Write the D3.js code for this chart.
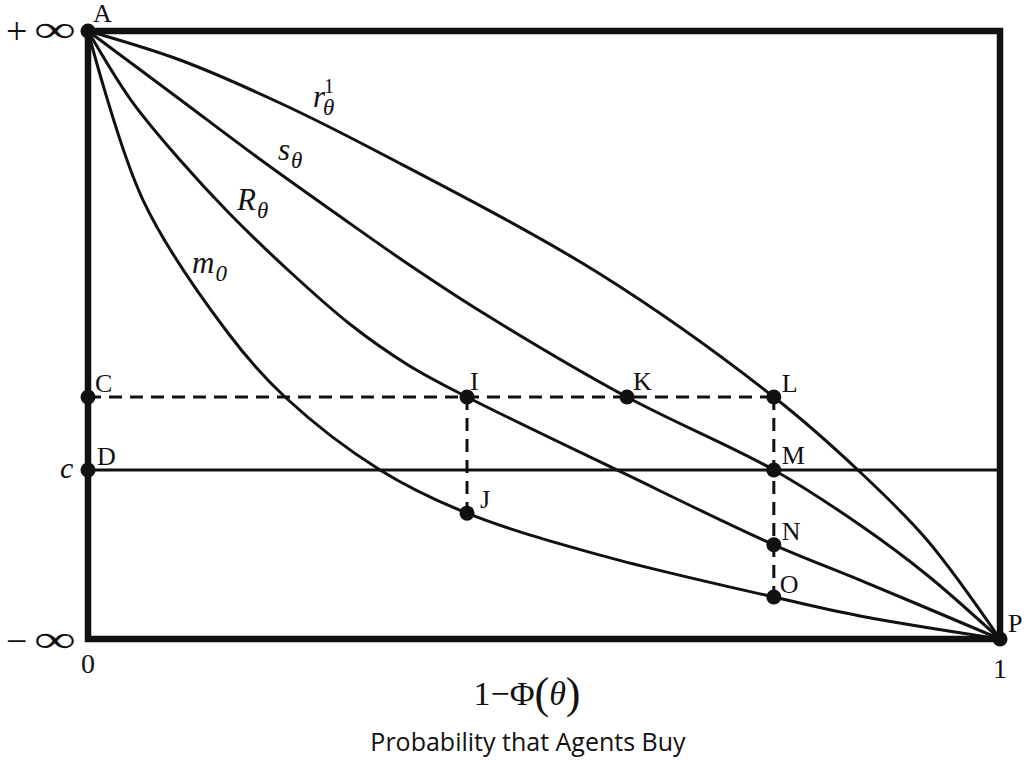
<!DOCTYPE html>
<html>
<head>
<meta charset="utf-8">
<script src="https://cdn.jsdelivr.net/npm/d3@7"></script>
<style>
  body { margin: 0; background: #fff; }
  text { font-family: "Liberation Serif", "DejaVu Serif", serif; fill: #111; }
</style>
</head>
<body>
<svg id="plot" width="1025" height="765"></svg>
<script>
// curves in data units: x = 1 - Phi(theta) in [0,1], y = 0 (-inf) .. 1 (+inf)
const r_curve = [[0,1],[0.1009,0.9523],[0.2105,0.8816],[0.3202,0.7993],[0.5614,0.6003],[0.752,0.398],[0.8465,0.2747],[0.92,0.1628],[1,0]]
const s_curve = [[0,1],[0.0987,0.8898],[0.1897,0.7878],[0.2741,0.6974],[0.3509,0.6168],[0.4298,0.5395],[0.591,0.398],[0.752,0.278],[0.8465,0.1875],[0.92,0.1053],[1,0]]
const R_curve = [[0,1],[0.0471,0.8865],[0.1009,0.7878],[0.1535,0.7023],[0.2193,0.6069],[0.2884,0.5164],[0.3509,0.4507],[0.4156,0.398],[0.58,0.278],[0.752,0.155],[0.8465,0.097],[1,0]]
const m_curve = [[0,1],[0.0603,0.722],[0.1535,0.5033],[0.216,0.398],[0.3202,0.278],[0.4156,0.207],[0.5614,0.138],[0.752,0.069],[0.8465,0.0378],[1,0]]

const c_level = 0.278     // line c
const C_level = 0.398     // dashed line through C
const x_I = 0.4156, x_L = 0.752

const points = [
    {name: 'A', x: 0, y: 1},
    {name: 'C', x: 0, y: C_level},
    {name: 'D', x: 0, y: c_level},
    {name: 'I', x: x_I, y: C_level},
    {name: 'K', x: 0.591, y: C_level},
    {name: 'L', x: x_L, y: C_level},
    {name: 'J', x: x_I, y: 0.207},
    {name: 'M', x: x_L, y: c_level},
    {name: 'N', x: x_L, y: 0.155},
    {name: 'O', x: x_L, y: 0.069},
    {name: 'P', x: 1, y: 0},
]

let margin = {top: 31, right: 25, bottom: 126, left: 88},
    width = 1025 - margin.left - margin.right,
    height = 765 - margin.top - margin.bottom;

let x_scale = d3.scaleLinear().domain([0, 1]).range([0, width])
let y_scale = d3.scaleLinear().domain([0, 1]).range([height, 0])

let svg = d3.select('#plot')
    .append('g')
    .attr('transform', `translate(${margin.left}, ${margin.top})`)

// frame
svg.append('rect')
    .attr('x', 0).attr('y', 0)
    .attr('width', width).attr('height', height)
    .attr('fill', 'none')
    .attr('stroke', '#111')
    .attr('stroke-width', 6.5)

// horizontal c line
svg.append('line')
    .attr('x1', x_scale(0)).attr('x2', x_scale(1))
    .attr('y1', y_scale(c_level)).attr('y2', y_scale(c_level))
    .attr('stroke', '#111').attr('stroke-width', 3)

// dashed lines
let dashes = [
    [[0, C_level], [x_L, C_level]],
    [[x_I, C_level], [x_I, 0.207]],
    [[x_L, C_level], [x_L, 0.069]],
]
svg.append('g')
    .selectAll('line')
    .data(dashes)
    .enter().append('line')
    .attr('x1', d => x_scale(d[0][0])).attr('y1', d => y_scale(d[0][1]))
    .attr('x2', d => x_scale(d[1][0])).attr('y2', d => y_scale(d[1][1]))
    .attr('stroke', '#111')
    .attr('stroke-width', 3)
    .attr('stroke-dasharray', '13,8')

// curves
let line = d3.line()
    .x(d => x_scale(d[0]))
    .y(d => y_scale(d[1]))
    .curve(d3.curveCatmullRom.alpha(0.5))

svg.append('g')
    .selectAll('path')
    .data([r_curve, s_curve, R_curve, m_curve])
    .enter().append('path')
    .attr('d', d => line(d))
    .attr('fill', 'none')
    .attr('stroke', '#111')
    .attr('stroke-width', 3)

// dots
svg.append('g')
    .selectAll('circle')
    .data(points)
    .enter().append('circle')
    .attr('cx', d => x_scale(d.x))
    .attr('cy', d => y_scale(d.y))
    .attr('r', 7.5)
    .attr('fill', '#111')

// point labels (offsets in px from the dot)
let label_offset = {
    A: [5, -9], C: [7, -5], D: [9, -5], I: [3, -7], K: [6, -7], L: [8, -5],
    J: [13, -5], M: [8, -6], N: [8, -5], O: [6, -4], P: [8, -7],
}
svg.append('g')
    .selectAll('text')
    .data(points)
    .enter().append('text')
    .attr('x', d => x_scale(d.x) + label_offset[d.name][0])
    .attr('y', d => y_scale(d.y) + label_offset[d.name][1])
    .style('font-size', '26px')
    .text(d => d.name)

// curve labels
function curve_label(x, y, base, sub, sup){
    let t = svg.append('text')
        .attr('x', x).attr('y', y)
        .style('font-size', '31px')
        .style('font-style', 'italic')
    t.append('tspan').text(base)
    if (sup) {
        t.append('tspan').attr('dx', -1).attr('dy', -14).style('font-size', '20px').style('font-style', 'normal').text(sup)
        t.append('tspan').attr('dx', -11).attr('dy', 22).style('font-size', '23px').text(sub)
    } else {
        t.append('tspan').attr('dx', 1).attr('dy', 8).style('font-size', '23px').text(sub)
    }
}
curve_label(225, 76, 'r', 'θ', '1')
curve_label(190, 129, 's', 'θ')
curve_label(149, 179, 'R', 'θ')
curve_label(104, 242, 'm', '0')

// y labels: +inf / -inf, infinity sign stretched like the original
function inf_label(y, sign){
    svg.append('text').attr('x', -82).attr('y', y + 2).style('font-size', '38px').text(sign)
    svg.append('g')
        .attr('transform', `translate(-54, ${y}) scale(1.55, 1)`)
        .append('text')
        .style('font-size', '38px')
        .text('∞')
}
inf_label(11, '+')
inf_label(height + 13, '−')

svg.append('text').attr('x', -28).attr('y', y_scale(c_level) + 8)
    .style('font-size', '30px').style('font-style', 'italic').text('c')

// x ticks
svg.append('text').attr('x', x_scale(0)).attr('y', height + 34)
    .style('font-size', '28px').style('text-anchor', 'middle').text('0')
svg.append('text').attr('x', x_scale(1)).attr('y', height + 39)
    .style('font-size', '28px').style('text-anchor', 'middle').text('1')

// x axis title
let xt = svg.append('text')
    .attr('x', width / 2 - 17).attr('y', height + 66)
    .style('font-size', '34px').style('text-anchor', 'middle')
xt.append('tspan').text('1−Φ')
xt.append('tspan').style('font-size', '44px').attr('dy', 3).text('(')
xt.append('tspan').style('font-style', 'italic').attr('dy', -3).text('θ')
xt.append('tspan').style('font-size', '44px').attr('dy', 3).text(')')

svg.append('text')
    .attr('x', width / 2 - 16).attr('y', height + 112)
    .style('font-family', '"Open Sans", sans-serif')
    .style('font-size', '25px').style('text-anchor', 'middle')
    .text('Probability that Agents Buy')
</script>
</body>
</html>
